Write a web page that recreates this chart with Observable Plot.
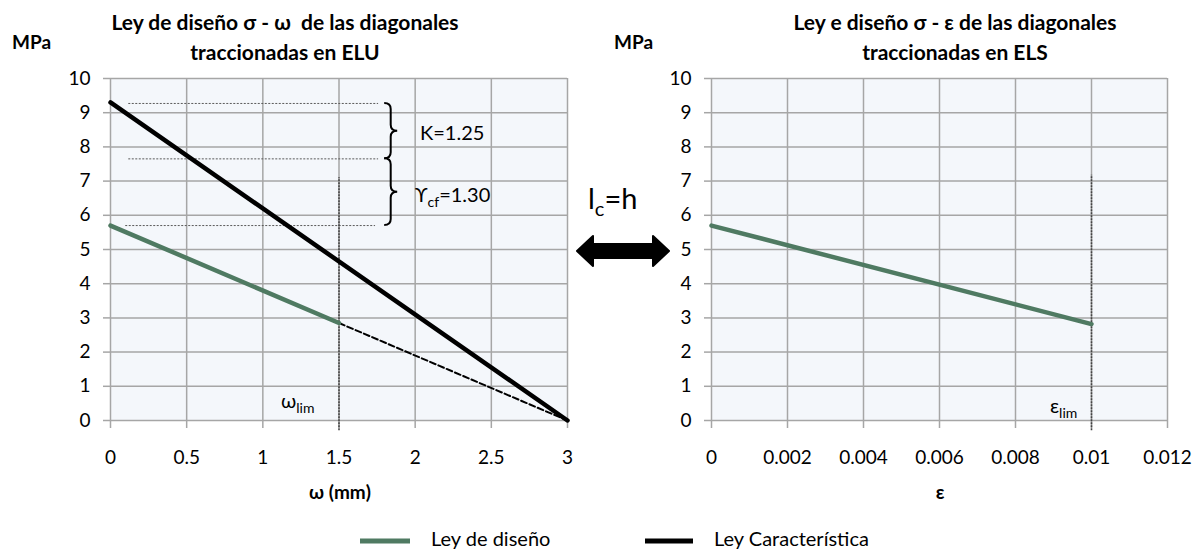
<!DOCTYPE html>
<html><head><meta charset="utf-8">
<script src="https://cdn.jsdelivr.net/npm/d3@7"></script>
<script src="https://cdn.jsdelivr.net/npm/@observablehq/plot@0.6"></script>
<style>
body{margin:0;background:#fff;font-family:Lato,"Open Sans",sans-serif;color:#000;}
#wrap{position:relative;width:1202px;height:555px;overflow:hidden;background:#fff;}
.abs{position:absolute;white-space:nowrap;}
.title{font-weight:bold;font-size:21px;text-align:center;line-height:30px;}
.lab{font-weight:bold;font-size:19px;}
.ann{font-size:20px;}
sub{font-size:14px;vertical-align:baseline;position:relative;top:5px;}
#wrap svg{position:absolute;}
</style></head>
<body><div id="wrap"></div>
<script>
// ---- data ----
const yTicks = [0,1,2,3,4,5,6,7,8,9,10];
const wTicks = [0,0.5,1,1.5,2,2.5,3];
const eTicks = [0,0.002,0.004,0.006,0.008,0.01,0.012];
// left chart (sigma - omega)
const wDesign = [0,1.5];          const sDesign = [5.7,2.85];
const wDesignExt = [1.5,3];       const sDesignExt = [2.85,0];
const wChar = [0,3];              const sChar = [9.3,0];
const refLevels = [9.27,7.65,5.7];
const refFrom = [0.12,0.12,0.10];
const refTo = [1.76,1.76,1.74];
const wLim = 1.5, wLimTop = 7.1;
const braceX = 1.80;
const braces = [[9.27,7.65],[7.65,5.7]];
// right chart (sigma - epsilon)
const eDesign = [0,0.01];         const sDesignE = [5.7,2.82];
const eLim = 0.01, eLimTop = 7.17;
const limBottom = -0.3;

const GREEN = "#4f7a62", GRID = "#a6a6a6", BG = "#f4f7fb";
const tbl = (xs, ys) => xs.map((x,i)=>({x, y: ys[i]}));

function braceMark(index, scales){
  const g = d3.create("svg:g");
  const x0 = scales.x(braceX), w = 13, m = x0 + w/2, r = 6;
  for (const [a,b] of braces){
    const y1 = scales.y(a), y2 = scales.y(b), ym = (y1+y2)/2;
    g.append("path")
      .attr("d", `M${x0},${y1} Q${m},${y1} ${m},${y1+r} L${m},${ym-r} Q${m},${ym} ${x0+w},${ym} Q${m},${ym} ${m},${ym+r} L${m},${y2-r} Q${m},${y2} ${x0},${y2}`)
      .attr("fill","none").attr("stroke","#000").attr("stroke-width",2);
  }
  return g.node();
}

const common = {
  height: 510, marginTop: 78, marginBottom: 90,
  y: {domain:[0,10]},
  style: {fontFamily:"Lato, 'Open Sans', sans-serif", fontSize:"19px", color:"#000", background:"transparent", overflow:"visible"}
};

const left = Plot.plot({
  ...common, width: 600, marginLeft: 110, marginRight: 33,
  x: {domain:[0,3]},
  marks: [
    Plot.frame({fill: BG, stroke: null}),
    Plot.ruleX(wTicks, {stroke: GRID, strokeWidth: 1.5}),
    Plot.ruleY(yTicks, {stroke: GRID, strokeWidth: 1.5}),
    Plot.axisY(yTicks, {tickSize: 7, tickPadding: 13, stroke: GRID, fill: "#000", strokeWidth: 1.5, tickFormat: d=>String(d), label: null}),
    Plot.axisX(wTicks, {tickSize: 8, tickPadding: 22, stroke: GRID, fill: "#000", strokeWidth: 1.5, tickFormat: d=>String(d), label: null}),
    Plot.ruleY(refLevels, {y: d=>d, x1: (d,i)=>refFrom[i], x2: (d,i)=>refTo[i], stroke: "#5a5a5a", strokeWidth: 1, strokeDasharray: "2,1.5"}),
    Plot.ruleX([{x: wLim, y1: limBottom, y2: wLimTop}], {x: "x", y1: "y1", y2: "y2", stroke: "#444", strokeWidth: 1.6, strokeDasharray: "2,1"}),
    Plot.line(tbl(wDesignExt, sDesignExt), {x: "x", y: "y", stroke: "#000", strokeWidth: 2, strokeDasharray: "6,3"}),
    Plot.line(tbl(wChar, sChar), {x: "x", y: "y", stroke: "#000", strokeWidth: 4.5}),
    Plot.line(tbl(wDesign, sDesign), {x: "x", y: "y", stroke: GREEN, strokeWidth: 4.5}),
    braceMark
  ]
});

const right = Plot.plot({
  ...common, width: 602, marginLeft: 111, marginRight: 35,
  x: {domain:[0,0.012]},
  marks: [
    Plot.frame({fill: BG, stroke: null}),
    Plot.ruleX(eTicks, {stroke: GRID, strokeWidth: 1.5}),
    Plot.ruleY(yTicks, {stroke: GRID, strokeWidth: 1.5}),
    Plot.axisY(yTicks, {tickSize: 7, tickPadding: 13, stroke: GRID, fill: "#000", strokeWidth: 1.5, tickFormat: d=>String(d), label: null}),
    Plot.axisX(eTicks, {tickSize: 8, tickPadding: 22, stroke: GRID, fill: "#000", strokeWidth: 1.5, tickFormat: d=>String(d), label: null}),
    Plot.ruleX([{x: eLim, y1: limBottom, y2: eLimTop}], {x: "x", y1: "y1", y2: "y2", stroke: "#444", strokeWidth: 1.6, strokeDasharray: "2,1"}),
    Plot.line(tbl(eDesign, sDesignE), {x: "x", y: "y", stroke: GREEN, strokeWidth: 4.5})
  ]
});

const wrap = document.getElementById("wrap");
left.style.left = "0px"; left.style.top = "0px";
right.style.left = "600px"; right.style.top = "0px";
wrap.appendChild(left); wrap.appendChild(right);

function add(html, css, cls){
  const d = document.createElement("div");
  d.className = "abs " + (cls||"");
  d.innerHTML = html;
  Object.assign(d.style, css);
  wrap.appendChild(d);
  return d;
}
// titles
add("Ley de diseño σ - ω&nbsp; de las diagonales<br>traccionadas en ELU", {left:"85px", width:"400px", top:"7px"}, "title");
add("Ley e diseño σ - ε de las diagonales<br>traccionadas en ELS", {left:"755px", width:"400px", top:"7px"}, "title");
add("MPa", {left:"12px", top:"30px"}, "lab");
add("MPa", {left:"614px", top:"30px"}, "lab");
add("ω (mm)", {left:"300px", width:"80px", textAlign:"center", top:"480px"}, "lab");
add("ε", {left:"900px", width:"80px", textAlign:"center", top:"480px"}, "lab");
// annotations
add("K=1.25", {left:"420px", top:"120px"}, "ann");
add("ϒ<sub>cf</sub>=1.30", {left:"415px", top:"182px"}, "ann");
add("ω<sub>lim</sub>", {left:"281px", top:"388px"}, "ann");
add("ε<sub>lim</sub>", {left:"1050px", top:"393px"}, "ann");
add("l<sub style='font-size:20px;top:7px'>c</sub>=h", {left:"588px", top:"180px", fontSize:"29px"});
// double arrow
add(`<svg width="96" height="36" style="position:static;display:block"><path d="M2,18 L18,3 L18,11 L78,11 L78,3 L94,18 L78,33 L78,25 L18,25 L18,33 Z" fill="#000" stroke="#000" stroke-width="2" stroke-linejoin="round"/></svg>`, {left:"575px", top:"233px"});
// legend
add(`<svg width="52" height="8" style="position:static;display:inline-block;vertical-align:middle"><line x1="1" y1="4" x2="51" y2="4" stroke="${GREEN}" stroke-width="5"/></svg><span style="margin-left:20px">Ley de diseño</span>`, {left:"359px", top:"526px", fontSize:"20px"});
add(`<svg width="50" height="8" style="position:static;display:inline-block;vertical-align:middle"><line x1="1" y1="4" x2="49" y2="4" stroke="#000" stroke-width="5"/></svg><span style="margin-left:20px">Ley Característica</span>`, {left:"644px", top:"526px", fontSize:"20px"});
</script></body></html>
